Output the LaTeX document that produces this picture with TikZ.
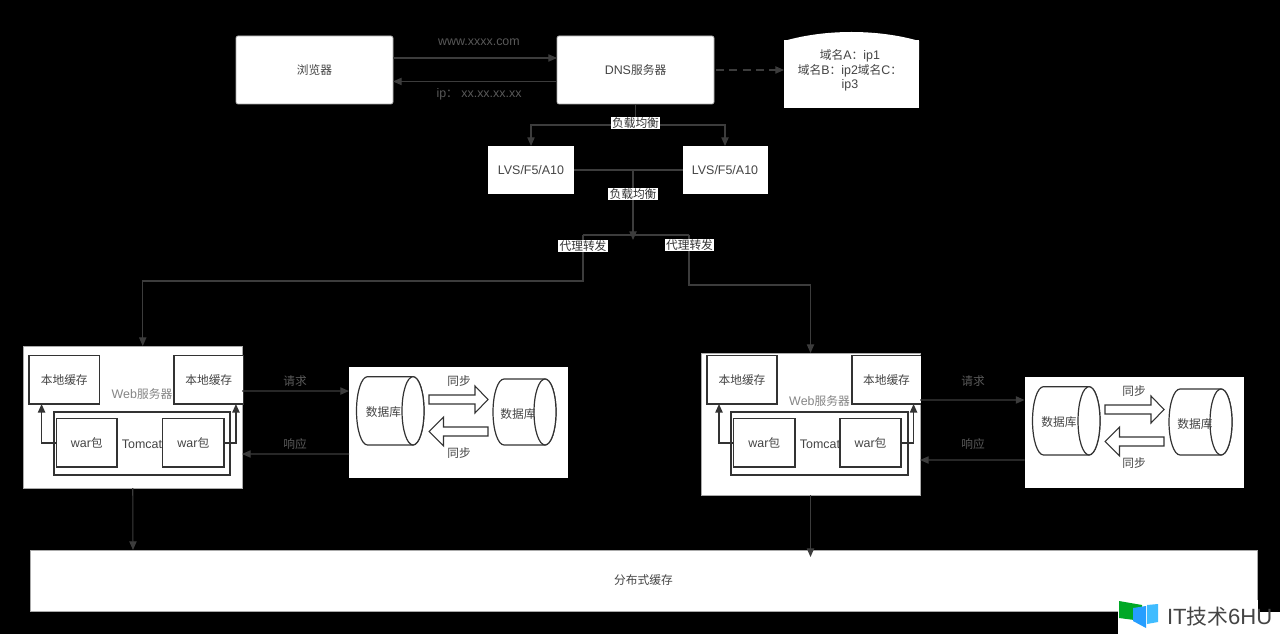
\documentclass[tikz,border=0pt]{standalone}
\usepackage{fontspec}
\setmainfont[Scale=1.06]{Liberation Sans}
\newfontfamily\cjk{Noto Sans CJK SC}
\newcommand{\zh}[1]{{\cjk #1}}
\usetikzlibrary{arrows.meta}
\definecolor{dimline}{HTML}{3C3C3C}
\definecolor{inkline}{HTML}{333333}
\definecolor{inktext}{HTML}{444444}
\definecolor{softtext}{HTML}{858585}
\tikzset{
  every node/.style={font=\fontsize{8.8pt}{11pt}\selectfont, text=inktext, inner sep=0pt, outer sep=0pt},
  panel/.style={fill=white, draw=softtext!70, line width=0.5pt},
  inbox/.style={fill=white, draw=inkline, line width=0.8pt},
  conn/.style={draw=dimline, line width=0.8pt},
  arr/.style={conn, -{Triangle[length=6.5pt,width=5.5pt]}},
  innerarr/.style={draw=inkline, line width=1.1pt, -{Triangle[length=6.5pt,width=5.5pt]}},
  flowtext/.style={text=dimline!85!white},
  tag/.style={fill=white, text=inkline, inner xsep=1pt, inner ysep=0.5pt},
  softlabel/.style={text=softtext},
  blockarrow/.style={fill=white, draw=inkline, line width=0.8pt},
  cylline/.style={fill=white, draw=inkline, line width=0.9pt}
}
% name, style, x0, y0, x1, y1, text
\newcommand{\bx}[7]{\node[#2, minimum width={(#5-#3)*0.75pt}, minimum height={(#6-#4)*0.75pt}, align=center] (#1) at ({(#3+#5)/2},{(#4+#6)/2}) {#7};}
% x0, y0, x1, y1 of a horizontal cylinder
\newcommand{\dbcyl}[4]{
  \path[cylline] ({#1+11},#2) arc[start angle=270,end angle=90,x radius=11,y radius={(#4-#2)/2}] -- ({#3-11},#4) arc[start angle=90,end angle=-90,x radius=11,y radius={(#4-#2)/2}] -- cycle;
  \path[cylline] ({#3-11},{(#2+#4)/2}) ellipse[x radius=11,y radius={(#4-#2)/2}];
}
\begin{document}
\begin{tikzpicture}[x=0.75pt,y=-0.75pt]
\useasboundingbox (0,0) rectangle (1280,634);
\fill[black] (0,0) rectangle (1280,634);

% top row
\bx{browser}{panel, rounded corners=1.5pt}{236}{36}{393}{104}{\zh{浏览器}}
\bx{dns}{panel, rounded corners=1.5pt}{557}{36}{714}{104}{DNS\zh{服务器}}
\fill[white] (784,41) .. controls (825,29) and (878,29) .. (919,41) -- (919,60) -- (784,60) -- cycle;
\bx{doc}{fill=white}{784}{40}{919}{108}{}
\node[align=center] (doctext) at (850,70.5) {\zh{域名}A\zh{：}ip1\\\zh{域名}B\zh{：}ip2\zh{域名}C\zh{：}\\ip3};

\draw[arr] ([yshift=9pt]browser.east) -- ([yshift=9pt]dns.west);
\draw[arr] ([yshift=-8.6pt]dns.west) -- ([yshift=-8.6pt]browser.east);
\draw[arr, dashed, dash pattern=on 6pt off 4pt] ([xshift=1.5pt]dns.east) -- ([yshift=3pt]doc.west);
\node[flowtext] (www) at (479,42) {www.xxxx.com};
\node[flowtext] (ipl) at (479,94) {ip\zh{：} xx.xx.xx.xx};

% load balancers
\bx{lvsa}{fill=white}{488}{146}{574}{194}{LVS/F5/A10}
\bx{lvsb}{fill=white}{682.5}{146}{767.5}{194}{LVS/F5/A10}
\coordinate (split) at (635.5,125);
\draw[conn] (dns.south) -- (split);
\draw[arr] (split) -| (lvsa.north);
\draw[arr] (split) -| (lvsb.north);
\node[tag] (lb1) at (635.5,123) {\zh{负载均衡}};

\coordinate (mid) at (633,170);
\coordinate (tip) at (633,240);
\coordinate (forkl) at (583,235);
\coordinate (forkr) at (689,235);
\coordinate (bendl) at (583,281);
\coordinate (bendr) at (689,285);

% web server A
\bx{weba}{panel}{23.5}{346}{242}{488}{}
\bx{cachea}{inbox}{29}{355.5}{99.5}{404}{\zh{本地缓存}}
\bx{cacheb}{inbox}{174}{355.5}{243.5}{404}{\zh{本地缓存}}
\bx{tomcata}{inbox, line width=1.1pt}{54}{412}{230}{475}{}
\node[softlabel] (weblabela) at (142,394) {Web\zh{服务器}};
\node (tomcatlabela) at (142,444) {Tomcat};
\bx{wara}{inbox, line width=1.1pt}{56.5}{418.7}{117}{467}{war\zh{包}}
\bx{warb}{inbox, line width=1.1pt}{162.7}{418.7}{224}{467}{war\zh{包}}
\draw[innerarr] (wara.west) -| ([xshift=-17pt]cachea.south);
\draw[innerarr] (warb.east) -| ([xshift=20.4pt]cacheb.south);

% database group A
\bx{dba}{fill=white}{349}{367}{568}{478}{}
\dbcyl{356.5}{376.7}{424}{445}
\dbcyl{493}{379}{556}{445}
\node (dbta) at (383.5,412) {\zh{数据库}};
\node (dbtb) at (518,414) {\zh{数据库}};
\path[blockarrow] (429,395) -- (475,395) -- (475,386) -- (488,399.5) -- (475,413) -- (475,404) -- (429,404) -- cycle;
\path[blockarrow] (488,427) -- (443.5,427) -- (443.5,417) -- (429,431.5) -- (443.5,446) -- (443.5,436) -- (488,436) -- cycle;
\node (syncat) at (459,381) {\zh{同步}};
\node (syncab) at (459,453) {\zh{同步}};

% web server B
\bx{webb}{panel}{701}{353}{920}{495}{}
\bx{cachec}{inbox}{707}{355.5}{777}{404}{\zh{本地缓存}}
\bx{cached}{inbox, draw=none}{852}{355.5}{921}{404}{\zh{本地缓存}}
\draw[draw=inkline, line width=0.8pt] (921,355.5) -- (852,355.5) -- (852,404) -- (921,404);
\bx{tomcatb}{inbox, line width=1.1pt}{731}{412}{908}{475}{}
\node[softlabel] (weblabelb) at (819.5,401.5) {Web\zh{服务器}};
\node (tomcatlabelb) at (820,444) {Tomcat};
\bx{warc}{inbox, line width=1.1pt}{733.6}{418.7}{795}{467}{war\zh{包}}
\bx{ward}{inbox, line width=1.1pt}{840}{418.7}{901}{467}{war\zh{包}}
\draw[innerarr] (warc.west) -| ([xshift=-17.25pt]cachec.south);
\draw[innerarr] (ward.east) -| ([xshift=20.3pt]cached.south);

% database group B
\bx{dbb}{fill=white}{1024.5}{377}{1244}{488}{}
\dbcyl{1032.5}{386.7}{1100}{455}
\dbcyl{1169}{389}{1232}{455}
\node (dbtc) at (1059,422) {\zh{数据库}};
\node (dbtd) at (1195,424) {\zh{数据库}};
\path[blockarrow] (1105,405) -- (1151,405) -- (1151,396) -- (1164,409.5) -- (1151,423) -- (1151,414) -- (1105,414) -- cycle;
\path[blockarrow] (1164,437) -- (1119.5,437) -- (1119.5,427) -- (1105,441.5) -- (1119.5,456) -- (1119.5,446) -- (1164,446) -- cycle;
\node (syncbt) at (1134,391) {\zh{同步}};
\node (syncbb) at (1134,463) {\zh{同步}};

% distributed cache
\bx{dist}{panel}{30}{550}{1257}{611}{\zh{分布式缓存}}

% routes from the load balancers
\draw[conn] (lvsa.east) -- (lvsb.west);
\draw[arr] (mid) -- (tip);
\draw[conn] (forkl) -- (forkr);
\node[tag] (lb2) at (633,194) {\zh{负载均衡}};
\draw[arr] (forkl) -- (bendl) -| ([xshift=7.5pt]weba.north);
\draw[arr] (forkr) -- (bendr) -| (webb.north);
\node[tag] (prx1) at (583,246) {\zh{代理转发}};
\node[tag] (prx2) at (689.5,245) {\zh{代理转发}};

% requests and responses
\draw[arr] ([yshift=19.5pt]weba.east) -- ([yshift=23.6pt]dba.west);
\draw[arr] ([yshift=-23.6pt]dba.west) -- ([yshift=-27.75pt]weba.east);
\draw[arr] ([yshift=18pt]webb.east) -- ([yshift=24.4pt]dbb.west);
\draw[arr] ([yshift=-20.6pt]dbb.west) -- ([yshift=-27pt]webb.east);
\node[flowtext] (req1) at (295,381) {\zh{请求}};
\node[flowtext] (res1) at (295,444) {\zh{响应}};
\node[flowtext] (req2) at (973,381) {\zh{请求}};
\node[flowtext] (res2) at (973,444) {\zh{响应}};

% to distributed cache
\coordinate (dista) at (133,550);
\coordinate (distb) at (810.5,557);
\draw[arr] (weba.south) -- (dista);
\draw[arr] (webb.south) -- (distb);

% watermark
\fill[white] (1118,600) rectangle (1258,634);
\fill[white] (1258,611.5) rectangle (1280,634);
\fill[green!60!black!85!cyan] (1119,601) -- (1142,605) -- (1142,621) -- (1119,618) -- cycle;
\fill[blue!45!cyan!85!white] (1133,608) -- (1146,606) -- (1146,628) -- (1133,621) -- cycle;
\fill[blue!35!cyan!75!white] (1147,605) -- (1158,604) -- (1158,622) -- (1147,624) -- cycle;
\node[font=\fontsize{15.6pt}{18pt}\selectfont, text=inktext, anchor=west] (mark) at (1167,616.5) {IT\zh{技术}6HU};
\end{tikzpicture}
\end{document}
